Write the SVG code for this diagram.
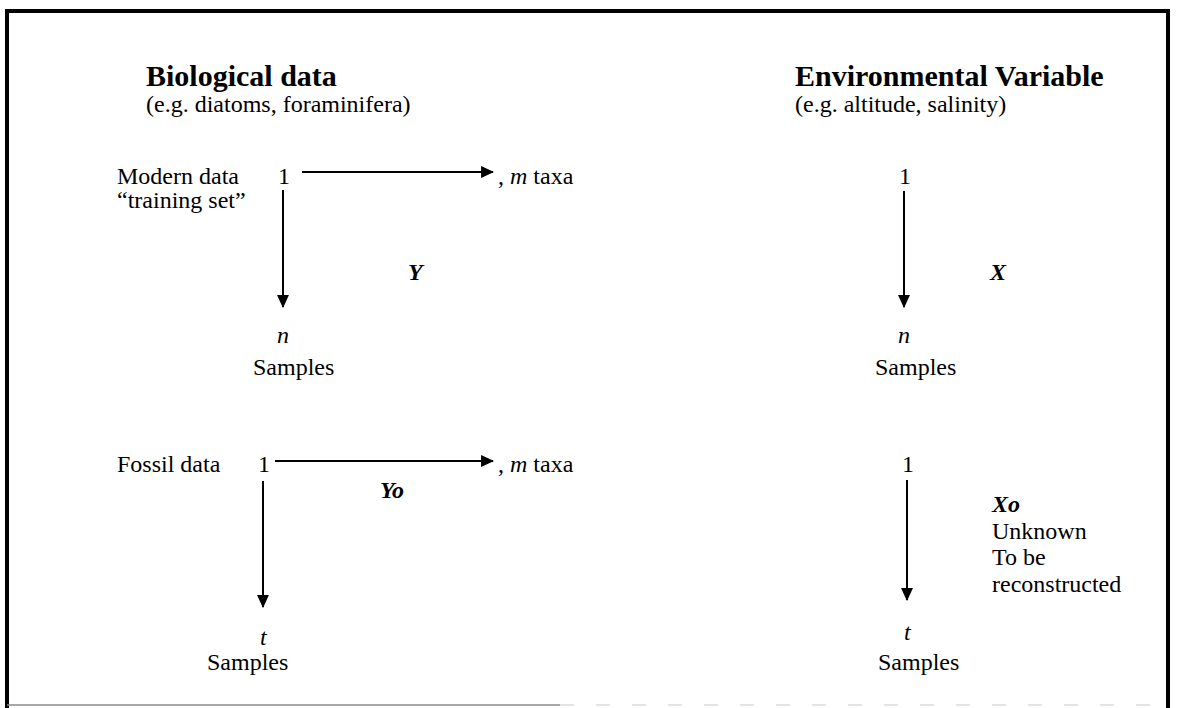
<svg xmlns="http://www.w3.org/2000/svg" width="1181" height="708" viewBox="0 0 1181 708">
  <style>
    text { font-family: "Liberation Serif", "Times New Roman", serif; fill: #000; }
    .title { font-size: 30px; font-weight: bold; }
    .body { font-size: 24px; }
    .it { font-style: italic; }
    .mat { font-style: italic; font-weight: bold; font-size: 24px; }
    .conn { stroke: #000; stroke-width: 2; fill: none; }
  </style>
  <defs>
    <marker id="arrow" markerUnits="userSpaceOnUse" markerWidth="13" markerHeight="13" viewBox="0 0 12 12" refX="11" refY="6" orient="auto">
      <path d="M0,0.5 L12,6 L0,11.5 Z" fill="#000"/>
    </marker>
  </defs>

  <rect width="1181" height="708" fill="#fff"/>

  <!-- frame -->
  <g id="frame">
    <path d="M7,708 V11 H1168 V708" fill="none" stroke="#000" stroke-width="4"/>
    <line x1="7" y1="705" x2="560" y2="705" stroke="#8a8a8a" stroke-width="1.5"/>
    <line x1="560" y1="705" x2="1168" y2="705" stroke="#c8c8c8" stroke-width="1" stroke-dasharray="14 22"/>
  </g>

  <!-- column headings -->
  <g id="bio-heading">
    <text class="title" x="146" y="86">Biological data</text>
    <text class="body" x="146" y="112">(e.g. diatoms, foraminifera)</text>
  </g>
  <g id="env-heading">
    <text class="title" x="795" y="86">Environmental Variable</text>
    <text class="body" x="795" y="112">(e.g. altitude, salinity)</text>
  </g>

  <!-- modern training set -->
  <g id="modern-Y">
    <text class="body" x="117" y="184">Modern data</text>
    <text class="body" x="117" y="208">“training set”</text>
    <text class="body" x="278" y="184">1</text>
    <text class="body" x="498" y="184">, <tspan class="it">m</tspan> taxa</text>
    <text class="mat" x="408" y="280">Y</text>
    <text class="body it" x="277" y="343">n</text>
    <text class="body" x="253" y="375">Samples</text>
  </g>
  <g id="modern-X">
    <text class="body" x="899" y="184">1</text>
    <text class="mat" x="990" y="280">X</text>
    <text class="body it" x="898" y="343">n</text>
    <text class="body" x="875" y="375">Samples</text>
  </g>

  <!-- fossil data -->
  <g id="fossil-Yo">
    <text class="body" x="117" y="472">Fossil data</text>
    <text class="body" x="258" y="472">1</text>
    <text class="body" x="498" y="472">, <tspan class="it">m</tspan> taxa</text>
    <text class="mat" x="380" y="498">Yo</text>
    <text class="body it" x="260" y="645">t</text>
    <text class="body" x="207" y="670">Samples</text>
  </g>
  <g id="fossil-Xo">
    <text class="body" x="902" y="472">1</text>
    <text class="mat" x="992" y="512">Xo</text>
    <text class="body" x="992" y="539">Unknown</text>
    <text class="body" x="992" y="565">To be</text>
    <text class="body" x="992" y="592">reconstructed</text>
    <text class="body it" x="904" y="640">t</text>
    <text class="body" x="878" y="670">Samples</text>
  </g>

  <!-- connectors -->
  <g id="connectors">
    <line class="conn" x1="302" y1="172" x2="493" y2="172" marker-end="url(#arrow)"/>
    <line class="conn" x1="283" y1="190" x2="283" y2="307" marker-end="url(#arrow)"/>
    <line class="conn" x1="904" y1="191" x2="904" y2="307" marker-end="url(#arrow)"/>
    <line class="conn" x1="275" y1="461" x2="493" y2="461" marker-end="url(#arrow)"/>
    <line class="conn" x1="263" y1="481" x2="263" y2="607" marker-end="url(#arrow)"/>
    <line class="conn" x1="907" y1="480" x2="907" y2="600" marker-end="url(#arrow)"/>
  </g>
</svg>
